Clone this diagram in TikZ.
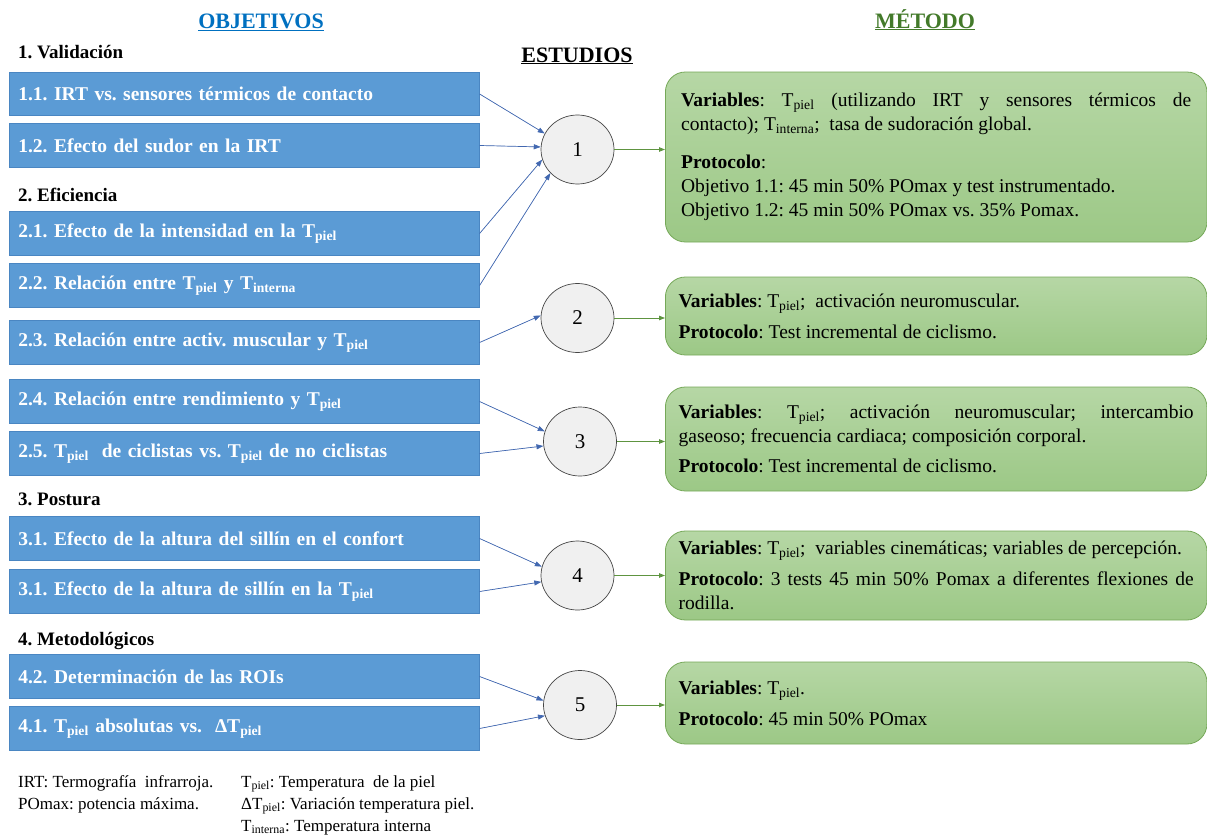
\documentclass[tikz,border=0pt]{standalone}
\usepackage{fontspec}
\setmainfont{Liberation Serif}
\usetikzlibrary{shapes.geometric,arrows.meta}
\hyphenpenalty=10000
\exhyphenpenalty=10000
\frenchspacing
\definecolor{bluebox}{HTML}{5B9BD5}
\definecolor{blueedge}{HTML}{4A86C2}
\definecolor{bluearrow}{HTML}{4268B0}
\definecolor{objblue}{HTML}{0070C0}
\definecolor{metgreen}{HTML}{437A2A}
\definecolor{gtop}{HTML}{B6D7A5}
\definecolor{gbot}{HTML}{9CC886}
\definecolor{gedge}{HTML}{75A858}
\definecolor{garrowc}{HTML}{5E9440}
\definecolor{circfill}{HTML}{F0F0F0}
\definecolor{circedge}{HTML}{454545}
\begin{document}
\frenchspacing
\begin{tikzpicture}[x=1pt,y=-1pt,
  obj/.style={rectangle, fill=bluebox, draw=blueedge, line width=0.6pt,
    minimum width=470pt, minimum height=43.5pt, inner xsep=9pt, inner ysep=0pt,
    text width=452pt, align=left, text=white,
    font=\fontsize{19.5}{24}\selectfont\bfseries\frenchspacing, anchor=west},
  hd/.style={anchor=base west, inner sep=0pt, font=\fontsize{19}{22}\selectfont\bfseries\frenchspacing},
  ttl/.style={anchor=base, font=\fontsize{22}{26}\selectfont\bfseries},
  circ/.style={ellipse, draw=circedge, fill=circfill, line width=0.7pt,
    minimum width=73pt, minimum height=69pt, inner sep=0pt,
    font=\fontsize{21}{24}\selectfont},
  gbox/.style={rectangle, rounded corners=20pt, draw=gedge, line width=0.8pt,
    top color=gtop, bottom color=gbot, minimum width=541.5pt, align=justify,
    inner ysep=0pt, font=\fontsize{19.5}{24}\selectfont\frenchspacing, anchor=west},
  foot/.style={anchor=base west, inner sep=0pt, font=\fontsize{17}{20}\selectfont\frenchspacing},
  barrow/.style={draw=bluearrow, line width=0.7pt, -{Triangle[length=7pt,width=5pt]}, fill=bluearrow},
  garrow/.style={draw=garrowc, line width=0.8pt, -{Triangle[length=6pt,width=4.5pt]}, fill=garrowc}
]
\useasboundingbox (0,0) rectangle (1207,835);

% titles
\node[ttl, text=objblue] (tobj) at (261,28) {\underline{OBJETIVOS}};
\node[ttl] (test) at (577,62) {\underline{ESTUDIOS}};
\node[ttl, text=metgreen] (tmet) at (925,28) {\underline{MÉTODO}};

% headers
\node[hd] (h1) at (18,58) {1. Validación};
\node[hd] (h2) at (18,201) {2. Eficiencia};
\node[hd] (h3) at (18,505) {3. Postura};
\node[hd] (h4) at (18,645) {4. Metodológicos};

% objective boxes
\node[obj] (b11) at (9,94) {1.1. IRT vs. sensores térmicos de contacto};
\node[obj] (b12) at (9,145.5) {1.2. Efecto del sudor en la IRT};
\node[obj] (b21) at (9,233.5) {2.1. Efecto de la intensidad en la T\textsubscript{piel}};
\node[obj] (b22) at (9,285.5) {2.2. Relación entre T\textsubscript{piel} y T\textsubscript{interna}};
\node[obj] (b23) at (9,342.5) {2.3. Relación entre activ. muscular y T\textsubscript{piel}};
\node[obj] (b24) at (9,401.5) {2.4. Relación entre rendimiento y T\textsubscript{piel}};
\node[obj] (b25) at (9,453.5) {2.5. T\textsubscript{piel}\ \ de ciclistas vs. T\textsubscript{piel} de no ciclistas};
\node[obj] (b31) at (9,538.5) {3.1. Efecto de la altura del sillín en el confort};
\node[obj] (b32) at (9,591.5) {3.1. Efecto de la altura de sillín en la T\textsubscript{piel}};
\node[obj] (b42) at (9,676.5) {4.2. Determinación de las ROIs};
\node[obj] (b41) at (9,728.5) {4.1. T\textsubscript{piel} absolutas vs.\ \ ΔT\textsubscript{piel}};

% study circles
\node[circ] (c1) at (577.5,149.5) {1};
\node[circ] (c2) at (577.5,318) {2};
\node[circ] (c3) at (580,441.5) {3};
\node[circ] (c4) at (577.5,575.5) {4};
\node[circ] (c5) at (580,705) {5};

% method boxes
\node[gbox, minimum height=170pt, text width=510pt, inner xsep=15.75pt] (g1) at (665,157)
 {\textbf{Variables}: T\textsubscript{piel} (utilizando IRT y sensores térmicos de\linebreak
  contacto); T\textsubscript{interna}; \ tasa de sudoración global.\par\vspace{14pt}
  \textbf{Protocolo}:\par
  Objetivo 1.1: 45 min 50\% POmax y test instrumentado.\par
  Objetivo 1.2: 45 min 50\% POmax vs. 35\% Pomax.};
\node[gbox, minimum height=78pt, text width=515pt, inner xsep=13.25pt] (g2) at (665,316)
 {\textbf{Variables}: T\textsubscript{piel}; \ activación neuromuscular.\par\vspace{7pt}
  \textbf{Protocolo}: Test incremental de ciclismo.};
\node[gbox, minimum height=104pt, text width=515pt, inner xsep=13.25pt] (g3) at (665,439)
 {\textbf{Variables}: T\textsubscript{piel}; activación neuromuscular; intercambio\linebreak
  gaseoso; frecuencia cardiaca; composición corporal.\par\vspace{6pt}
  \textbf{Protocolo}: Test incremental de ciclismo.};
\node[gbox, minimum height=89pt, text width=515pt, inner xsep=13.25pt] (g4) at (665,575.5)
 {\textbf{Variables}: T\textsubscript{piel}; \ variables cinemáticas; variables de percepción.\par\vspace{7pt}
  \textbf{Protocolo}: 3 tests 45 min 50\% Pomax a diferentes flexiones de\linebreak
  rodilla.};
\node[gbox, minimum height=82pt, text width=515pt, inner xsep=13.25pt] (g5) at (665,703)
 {\textbf{Variables}: T\textsubscript{piel}.\par\vspace{7pt}
  \textbf{Protocolo}: 45 min 50\% POmax};

% connectors objectives -> studies
\draw[barrow] (b11.east) -- (c1.154);
\draw[barrow] (b12.east) -- (c1.176);
\draw[barrow] (b21.east) -- (c1.196);
\draw[barrow] (b22.east) -- (c1.221);
\draw[barrow] (b23.east) -- (c2.176);
\draw[barrow] (b24.east) -- (c3.164);
\draw[barrow] (b25.east) -- (c3.187);
\draw[barrow] (b31.east) -- (c4.166);
\draw[barrow] (b32.east) -- (c4.190);
\draw[barrow] (b42.east) -- (c5.173);
\draw[barrow] (b41.east) -- (c5.197);

% studies -> methods
\draw[garrow] (c1.east) -- (c1.east -| g1.west);
\draw[garrow] (c2.east) -- (c2.east -| g2.west);
\draw[garrow] (c3.east) -- (c3.east -| g3.west);
\draw[garrow] (c4.east) -- (c4.east -| g4.west);
\draw[garrow] (c5.east) -- (c5.east -| g5.west);

% footnotes
\node[foot] (f1) at (18,787) {IRT: Termografía \ infrarroja.};
\node[foot] (f2) at (18,809) {POmax: potencia máxima.};
\node[foot] (f3) at (241,787) {T\textsubscript{piel}: Temperatura \ de la piel};
\node[foot] (f4) at (241,809) {ΔT\textsubscript{piel}: Variación temperatura piel.};
\node[foot] (f5) at (241,831) {T\textsubscript{interna}: Temperatura interna};
\end{tikzpicture}
\end{document}
